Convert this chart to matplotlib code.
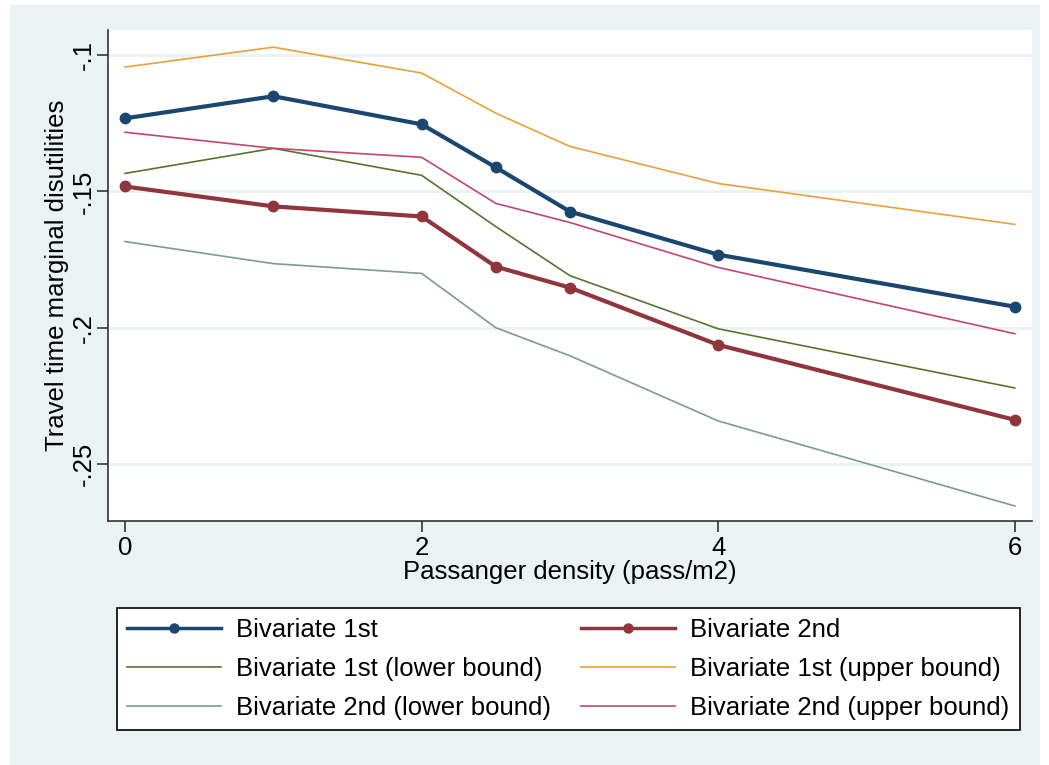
import matplotlib
matplotlib.use("Agg")
import matplotlib.pyplot as plt
from matplotlib.patches import Rectangle

plt.rcParams['font.family'] = ['Liberation Sans', 'DejaVu Sans']

density = [0, 1, 2, 2.5, 3, 4, 6]
biv1 = [-0.1232, -0.1151, -0.1254, -0.1412, -0.1574, -0.1732, -0.1923]
biv2 = [-0.1482, -0.1555, -0.1592, -0.1776, -0.1853, -0.2063, -0.2338]
biv1_lo = [-0.1434, -0.1342, -0.1441, -0.1629, -0.1809, -0.2004, -0.2221]
biv1_hi = [-0.1044, -0.0971, -0.1066, -0.1213, -0.1335, -0.1471, -0.1621]
biv2_lo = [-0.1684, -0.1765, -0.1801, -0.2000, -0.2103, -0.2342, -0.2654]
biv2_hi = [-0.1283, -0.1342, -0.1375, -0.1544, -0.1614, -0.1779, -0.2022]

xticks = [0, 2, 4, 6]
yticks = [-0.25, -0.2, -0.15, -0.1]
ytick_labels = ['-.25', '-.2', '-.15', '-.1']

FS = 18.5
W, H = 1049, 765
fig = plt.figure(figsize=(W / 100, H / 100), dpi=100, facecolor='white')
bg = '#eaf2f3'
fig.patches.append(Rectangle((10 / W, 0), (1040 - 10) / W, (765 - 5) / H,
                             transform=fig.transFigure, facecolor=bg,
                             edgecolor='none', zorder=-10))

ax = fig.add_axes([108 / W, 1 - 521 / H, (1032 - 108) / W, (521 - 30) / H])
ax.set_facecolor('white')

navy = '#1a476f'
maroon = '#90353b'
green = '#55752f'
orange = '#e8a13a'
teal = '#7d9a92'
cran = '#c2476a'

l1, = ax.plot(density, biv1, color=navy, lw=3, marker='o', ms=7.5, label='Bivariate 1st', zorder=5)
l2, = ax.plot(density, biv2, color=maroon, lw=3, marker='o', ms=7.5, label='Bivariate 2nd', zorder=5)
l3, = ax.plot(density, biv1_lo, color=green, lw=1.2, label='Bivariate 1st (lower bound)')
l4, = ax.plot(density, biv1_hi, color=orange, lw=1.2, label='Bivariate 1st (upper bound)')
l5, = ax.plot(density, biv2_lo, color=teal, lw=1.2, label='Bivariate 2nd (lower bound)')
l6, = ax.plot(density, biv2_hi, color=cran, lw=1.2, label='Bivariate 2nd (upper bound)')

ax.set_xlim(-0.115, 6.116)
ax.set_ylim(-0.2709, -0.0908)
ax.set_xticks(xticks)
ax.set_yticks(yticks)
ax.set_yticklabels(ytick_labels, rotation=90, va='center')
ax.grid(axis='y', color='#eaf2f3', lw=2)
ax.set_axisbelow(True)
for s in ['top', 'right']:
    ax.spines[s].set_visible(False)
for s in ['left', 'bottom']:
    ax.spines[s].set_color('#333333')
    ax.spines[s].set_linewidth(1.2)
ax.tick_params(labelsize=FS, length=8, width=1.2, color='#333333', pad=3)
ax.tick_params(axis='y', pad=1)
ax.set_xlabel('Passanger density (pass/m2)', fontsize=FS, labelpad=0)
ax.set_ylabel('Travel time marginal disutilities', fontsize=FS, labelpad=2)

handles = [l1, l3, l5, l2, l4, l6]
leg = fig.legend(handles=handles, labels=[h.get_label() for h in handles],
                 ncol=2, loc='upper left',
                 bbox_to_anchor=(117 / W, 1 - 608 / H),
                 fontsize=FS, frameon=True, fancybox=False, edgecolor='black',
                 framealpha=1, handlelength=3.65, handletextpad=0.6,
                 labelspacing=0.58, borderpad=0.4, columnspacing=1.15,
                 borderaxespad=0)
leg.get_frame().set_linewidth(1.2)
for h in leg.legend_handles:
    if h.get_marker() == 'o':
        h.set_markersize(6.5)
        h.set_linewidth(2.5)

fig.savefig('out.png', dpi=100, facecolor='white')
